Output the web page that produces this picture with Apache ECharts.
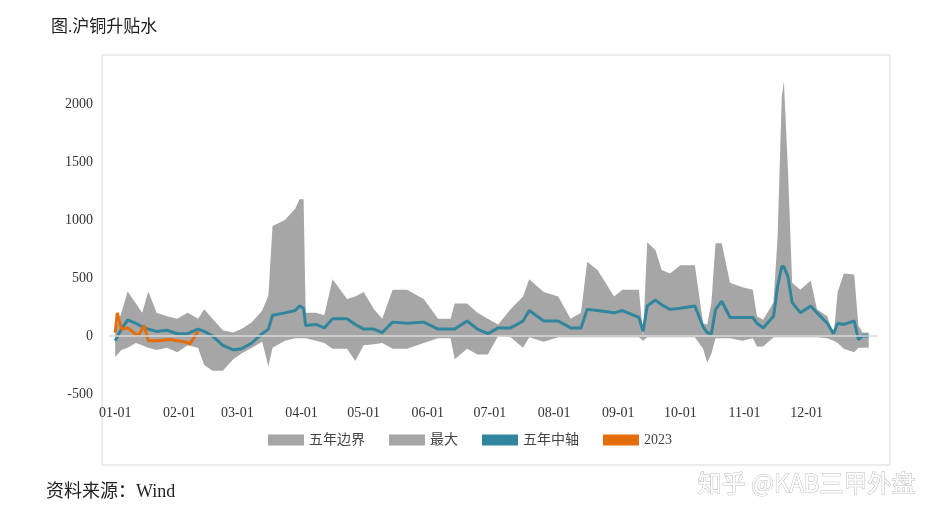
<!DOCTYPE html>
<html>
<head>
<meta charset="utf-8">
<script src="https://cdn.jsdelivr.net/npm/echarts@6/dist/echarts.min.js"></script>
<style>
  html, body { margin: 0; padding: 0; background: #fff; }
  #chart { width: 940px; height: 522px; }
</style>
</head>
<body>
<div id="chart"></div>
<script>
// day of year (0 = 01-01)
const days = [0,3,6,10,13,16,20,25,30,35,40,43,47,52,57,61,66,71,74,76,82,87,89,91,92,97,101,105,112,116,120,125,129,134,141,149,156,162,164,170,175,180,185,191,197,200,207,214,220,225,228,233,241,245,253,255,257,261,264,268,273,280,284,286,288,290,293,297,303,308,310,313,318,320,322,323,325,327,331,336,339,344,347,349,352,357,359,361,364];
const maxVals = [50,200,385,280,200,385,200,170,150,200,150,230,150,50,30,60,120,220,350,950,1000,1100,1180,1180,200,200,180,490,320,340,380,230,150,400,400,320,150,150,280,280,200,150,100,230,340,490,380,340,150,200,640,570,340,400,400,0,810,740,570,540,610,610,110,100,290,800,800,460,420,400,170,140,290,860,2060,2200,1430,460,400,480,230,170,0,380,540,530,90,30,30];
const minVals = [-180,-120,-100,-60,-80,-100,-120,-100,-140,-80,-100,-250,-300,-300,-200,-150,-100,-50,-260,-100,-40,-20,-20,-20,-20,-40,-60,-110,-110,-215,-80,-70,-60,-110,-110,-60,-20,-20,-200,-110,-160,-160,0,-10,-100,-10,-50,-10,-10,-10,-10,-10,-10,-10,-10,-40,-10,-10,-10,-10,-10,-10,-110,-230,-150,-20,-20,-20,-40,-20,-90,-90,-10,-10,-10,-10,-10,-10,-10,-10,-10,-20,-40,-60,-110,-140,-100,-100,-100];
const midVals = [-40,60,140,110,80,60,40,50,20,20,60,40,0,-80,-120,-110,-60,20,60,180,200,220,260,240,90,100,70,150,150,100,60,60,30,120,110,120,60,60,60,130,60,20,70,70,130,220,130,130,70,70,230,220,200,220,160,40,260,310,270,230,240,260,80,30,20,230,300,160,160,160,110,70,170,430,600,600,510,290,200,260,200,110,20,110,100,130,-30,0,0];
const days2023 = [0,1,3,6,11,14,16,20,27,30,35,36,40];
const vals2023 = [30,200,60,70,0,90,-40,-40,-30,-40,-55,-70,40];
const monthStarts = [0,31,59,90,120,151,181,212,243,273,304,334];
const monthLabels = ['01-01','02-01','03-01','04-01','05-01','06-01','07-01','08-01','09-01','10-01','11-01','12-01'];

const gray = '#a6a6a6';
const serif = 'Liberation Serif, Noto Sans CJK SC';
const pair = (xs, ys) => xs.map((d, i) => [d, ys[i]]);

const chart = echarts.init(document.getElementById('chart'));
chart.setOption({
    animation: false,
    title: {
        text: '图.沪铜升贴水', left: 46, top: 14,
        textStyle: {fontSize: 17, fontWeight: 'normal', color: '#222', fontFamily: serif},
    },
    graphic: [
        {type: 'rect', shape: {x: 102, y: 55, width: 788, height: 410},
         style: {fill: 'none', stroke: '#d9d9d9', lineWidth: 1}, z: -1},
        {type: 'text', left: 46, top: 483,
         style: {text: '资料来源：Wind', fontSize: 18, fill: '#222', fontFamily: serif}},
        {type: 'text', right: 24, top: 470,
         style: {text: '知乎 @KAB三甲外盘', fontSize: 24, fill: '#fff', stroke: '#bbb', lineWidth: 1, fontFamily: 'Noto Sans CJK SC'}},
    ],
    legend: {
        bottom: 70, left: 'center', itemWidth: 36, itemHeight: 11, itemGap: 24,
        textStyle: {fontSize: 14, color: '#444', fontFamily: serif},
        data: [
            {name: '五年边界', icon: 'rect', itemStyle: {color: gray}},
            {name: '最大', icon: 'rect', itemStyle: {color: gray}},
            {name: '五年中轴', icon: 'rect', itemStyle: {color: '#31859c'}},
            {name: '2023', icon: 'rect', itemStyle: {color: '#e46c0a'}},
        ],
    },
    grid: {left: 109, right: 63, top: 81, bottom: 128},
    xAxis: {
        type: 'value', min: -3, max: 368,
        axisLine: {show: false}, axisTick: {show: false}, splitLine: {show: false},
        axisLabel: {
            customValues: monthStarts, margin: 12, fontSize: 14, color: '#333', fontFamily: serif,
            formatter: v => monthLabels[monthStarts.indexOf(v)] || '',
        },
    },
    yAxis: {
        type: 'value', min: -500, max: 2200, interval: 500,
        axisLine: {show: false}, axisTick: {show: false}, splitLine: {show: false},
        axisLabel: {showMaxLabel: false, fontSize: 14, color: '#333', margin: 16, fontFamily: serif,
                    formatter: v => String(v)},
    },
    series: [
        {name: '五年边界', type: 'line', data: pair(days, minVals), symbol: 'none',
         lineStyle: {width: 0}, itemStyle: {color: gray}, areaStyle: {color: gray, opacity: 1}},
        {name: '最大', type: 'line', data: pair(days, maxVals), symbol: 'none',
         lineStyle: {width: 0}, itemStyle: {color: gray}, areaStyle: {color: gray, opacity: 1},
         markLine: {silent: true, symbol: 'none', label: {show: false},
                    lineStyle: {color: '#d9d9d9', type: 'solid', width: 1.5}, data: [{yAxis: 0}]}},
        {name: '五年中轴', type: 'line', data: pair(days, midVals), symbol: 'none',
         lineStyle: {width: 3, color: '#31859c'}, itemStyle: {color: '#31859c'}, z: 3},
        {name: '2023', type: 'line', data: pair(days2023, vals2023), symbol: 'none',
         lineStyle: {width: 3, color: '#e46c0a'}, itemStyle: {color: '#e46c0a'}, z: 4},
    ],
});
</script>
</body>
</html>
